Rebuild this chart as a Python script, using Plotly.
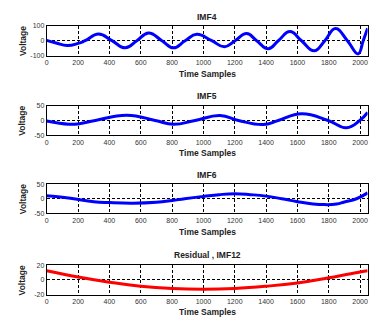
import plotly.graph_objects as go

# ---- data ----
imf4_x = [0, 60, 130, 200, 245, 331, 416, 501, 575, 650, 735, 809, 883, 958, 1053, 1134,
          1202, 1276, 1340, 1414, 1478, 1552, 1626, 1707, 1775, 1843, 1919, 1987, 2020, 2048]
imf4_y = [2, -15, -32, -18, 0, 44, 0, -47, 0, 51, 0, -47, 0, 42, 0, -40,
          0, 47, 0, -53, 0, 60, 0, -67, 0, 80, 0, -87, 0, 82]

imf5_x = [0, 140, 200, 310, 512, 692, 809, 947, 1106, 1223, 1382, 1478, 1626, 1796, 1913, 1998, 2048]
imf5_y = [-2, -13, -12, 0, 18, 0, -13, 0, 17, 0, -14, 0, 23, 0, -25, 0, 27]

imf6_x = [0, 100, 172, 300, 400, 550, 700, 800, 880, 1000, 1100, 1200, 1300, 1400, 1500,
          1600, 1700, 1775, 1850, 1900, 1977, 2048]
imf6_y = [10, 5, 0, -10, -13, -15, -12, -6, 0, 8, 14, 17, 14, 9, 0,
          -10, -18, -20, -18, -11, 0, 20]

res_x = [0, 200, 400, 600, 800, 1000, 1200, 1400, 1600, 1800, 2000, 2048]
res_y = [12.5, 4, -3, -8.5, -11.5, -12.5, -11.5, -8.5, -4, 3, 11, 12.5]

titles = ["IMF4", "IMF5", "IMF6", "Residual , IMF12"]
y_ticks = [[-100, 0, 100], [-50, 0, 50], [-50, 0, 50], [-20, 0, 20]]
x_ticks = list(range(0, 2001, 200))

series = [(imf4_x, imf4_y, "#0000FF"), (imf5_x, imf5_y, "#0000FF"),
          (imf6_x, imf6_y, "#0000FF"), (res_x, res_y, "#FF0000")]

W, H = 386, 328
# pixel boxes (top, bottom) of each panel
panels = [(22, 53), (104, 134), (184, 214), (267, 297)]
x_left, x_right = 45, 367.5
title_y = [13.3, 94.3, 174.7, 256]
xlabel_y = [72, 152.7, 232.7, 315]

FONT = "Liberation Sans, Arial, sans-serif"

fig = go.Figure()
annotations = []
for i, ((xs, ys, col), (top, bot)) in enumerate(zip(series, panels)):
    n = "" if i == 0 else str(i + 1)
    fig.add_trace(go.Scatter(x=xs, y=ys, mode="lines",
                             line=dict(color=col, width=3, shape="spline", smoothing=1.3),
                             xaxis="x" + n, yaxis="y" + n, showlegend=False))
    yt = y_ticks[i]
    fig.layout["xaxis" + n] = dict(
        domain=[x_left / W, x_right / W], range=[0, 2048], anchor="y" + n,
        tickvals=x_ticks, ticktext=[str(v) for v in x_ticks],
        showgrid=True, gridcolor="black", gridwidth=1, griddash="3px,2px",
        zeroline=False, showline=True, linecolor="black", linewidth=1, mirror=True,
        ticks="", tickfont=dict(family=FONT, size=7, color="#333333"))
    fig.layout["yaxis" + n] = dict(
        domain=[1 - bot / H, 1 - top / H], range=[yt[0], yt[-1]], anchor="x" + n,
        tickvals=yt, ticktext=[str(v) for v in yt],
        showgrid=True, gridcolor="black", gridwidth=1, griddash="3px,2px",
        zeroline=False, showline=True, linecolor="black", linewidth=1, mirror=True,
        ticks="", tickfont=dict(family=FONT, size=7, color="#333333"))
    annotations.append(dict(text="<b>" + titles[i] + "</b>", x=(x_left + x_right) / 2 / W,
                            y=1 - title_y[i] / H, xref="paper", yref="paper",
                            xanchor="center", yanchor="middle", showarrow=False,
                            font=dict(family=FONT, size=8.5, color="#222222")))
    annotations.append(dict(text="<b>Time Samples</b>", x=(x_left + x_right) / 2 / W,
                            y=1 - xlabel_y[i] / H, xref="paper", yref="paper",
                            xanchor="center", yanchor="middle", showarrow=False,
                            font=dict(family=FONT, size=8.5, color="#222222")))
    annotations.append(dict(text="<b>Voltage</b>", x=20.5 / W, y=1 - (top + bot) / 2 / H,
                            xref="paper", yref="paper", xanchor="center", yanchor="middle",
                            textangle=-90, showarrow=False,
                            font=dict(family=FONT, size=8.5, color="#222222")))

fig.update_layout(width=W, height=H, autosize=False, margin=dict(l=0, r=0, t=0, b=0),
                  paper_bgcolor="white", plot_bgcolor="white", annotations=annotations)
fig.write_html("out.html", config={"displayModeBar": False})
